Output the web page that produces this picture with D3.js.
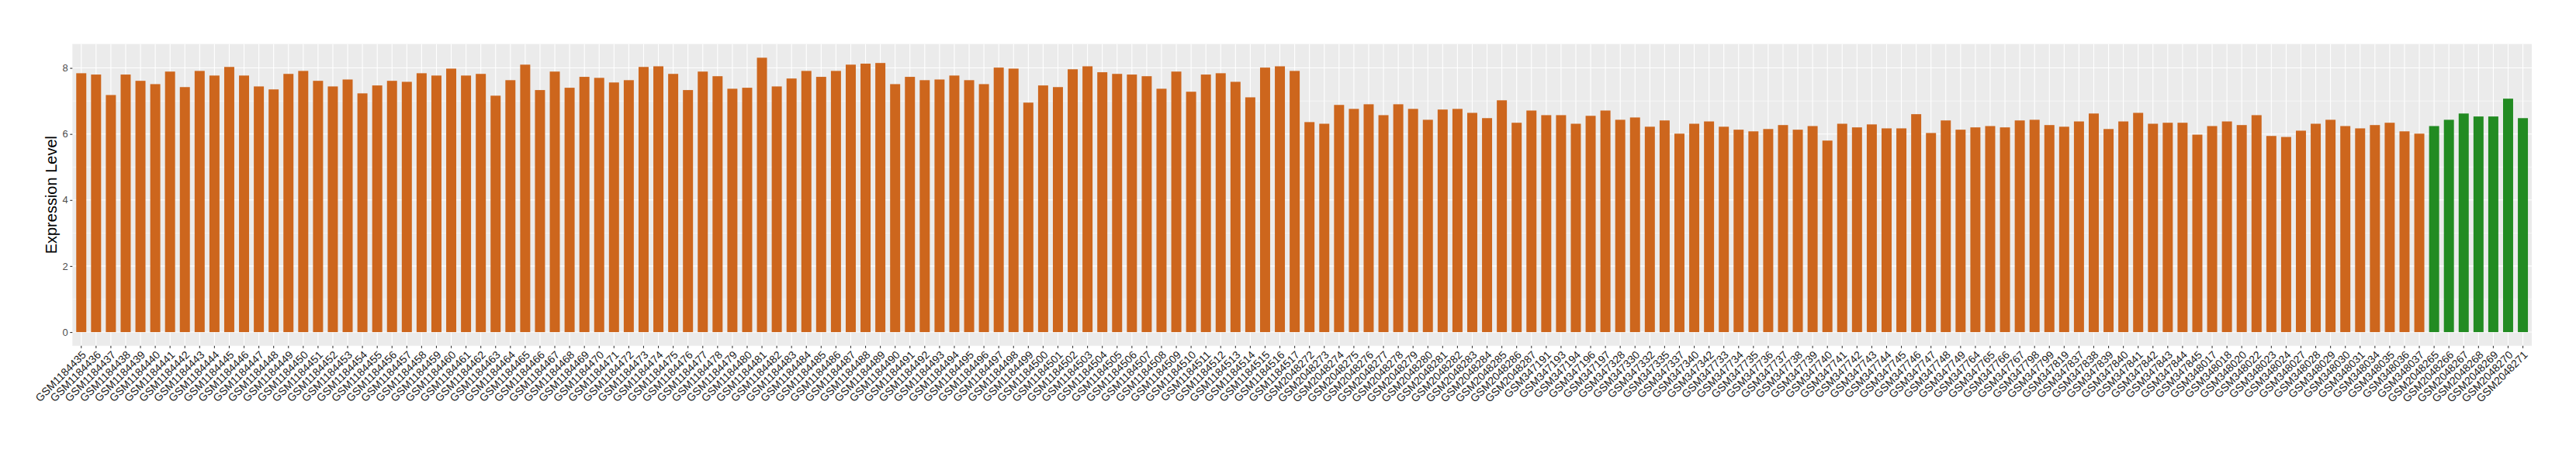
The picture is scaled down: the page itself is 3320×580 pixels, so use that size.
<!DOCTYPE html>
<html>
<head>
<meta charset="utf-8">
<script src="https://cdn.jsdelivr.net/npm/d3@7"></script>
<style>
  html, body { margin: 0; padding: 0; background: #ffffff; }
  svg { display: block; }
  text { font-family: "Liberation Sans", Arial, Helvetica, sans-serif; }
</style>
</head>
<body>
<script>
// ---------------- DATA ----------------
const samplesA = [
  "GSM1184435","GSM1184436","GSM1184437","GSM1184438","GSM1184439","GSM1184440","GSM1184441","GSM1184442","GSM1184443","GSM1184444",
  "GSM1184445","GSM1184446","GSM1184447","GSM1184448","GSM1184449","GSM1184450","GSM1184451","GSM1184452","GSM1184453","GSM1184454",
  "GSM1184455","GSM1184456","GSM1184457","GSM1184458","GSM1184459","GSM1184460","GSM1184461","GSM1184462","GSM1184463","GSM1184464",
  "GSM1184465","GSM1184466","GSM1184467","GSM1184468","GSM1184469","GSM1184470","GSM1184471","GSM1184472","GSM1184473","GSM1184474",
  "GSM1184475","GSM1184476","GSM1184477","GSM1184478","GSM1184479","GSM1184480","GSM1184481","GSM1184482","GSM1184483","GSM1184484",
  "GSM1184485","GSM1184486","GSM1184487","GSM1184488","GSM1184489","GSM1184490","GSM1184491","GSM1184492","GSM1184493","GSM1184494",
  "GSM1184495","GSM1184496","GSM1184497","GSM1184498","GSM1184499","GSM1184500","GSM1184501","GSM1184502","GSM1184503","GSM1184504",
  "GSM1184505","GSM1184506","GSM1184507","GSM1184508","GSM1184509","GSM1184510","GSM1184511","GSM1184512","GSM1184513","GSM1184514",
  "GSM1184515","GSM1184516","GSM1184517",
  "GSM2048272","GSM2048273","GSM2048274","GSM2048275","GSM2048276","GSM2048277","GSM2048278","GSM2048279","GSM2048280","GSM2048281",
  "GSM2048282","GSM2048283","GSM2048284","GSM2048285","GSM2048286","GSM2048287",
  "GSM347191","GSM347193","GSM347194","GSM347196","GSM347197","GSM347328","GSM347330","GSM347332","GSM347335","GSM347337",
  "GSM347340","GSM347342","GSM347733","GSM347734","GSM347735","GSM347736","GSM347737","GSM347738","GSM347739","GSM347740",
  "GSM347741","GSM347742","GSM347743","GSM347744","GSM347745","GSM347746","GSM347747","GSM347748","GSM347749","GSM347764",
  "GSM347765","GSM347766","GSM347767","GSM347798","GSM347799","GSM347819","GSM347837","GSM347838","GSM347839","GSM347840",
  "GSM347841","GSM347842","GSM347843","GSM347844","GSM347845","GSM348017","GSM348018","GSM348020","GSM348022","GSM348023",
  "GSM348024","GSM348027","GSM348028","GSM348029","GSM348030","GSM348031","GSM348034","GSM348035","GSM348036","GSM348037"
];
const valuesA = [
  7.84, 7.80, 7.18, 7.80, 7.61, 7.51, 7.89, 7.42, 7.91, 7.77,
  8.03, 7.77, 7.44, 7.35, 7.82, 7.91, 7.61, 7.44, 7.65, 7.23,
  7.47, 7.61, 7.58, 7.84, 7.77, 7.98, 7.77, 7.82, 7.16, 7.63,
  8.10, 7.33, 7.89, 7.40, 7.73, 7.70, 7.56, 7.63, 8.03, 8.05,
  7.82, 7.33, 7.89, 7.75, 7.37, 7.40, 8.31, 7.44, 7.68, 7.91,
  7.73, 7.91, 8.10, 8.13, 8.15, 7.51, 7.73, 7.63, 7.65, 7.77,
  7.63, 7.51, 8.01, 7.98, 6.95, 7.47, 7.42, 7.96, 8.05, 7.87,
  7.82, 7.80, 7.75, 7.37, 7.89, 7.28, 7.80, 7.84, 7.58, 7.11,
  8.01, 8.05, 7.91,
  6.36, 6.31, 6.88, 6.76, 6.90, 6.57, 6.90, 6.76, 6.43, 6.74,
  6.76, 6.64, 6.48, 7.02, 6.34, 6.71, 6.57, 6.57, 6.31, 6.55,
  6.71, 6.43, 6.50, 6.22, 6.41, 6.01, 6.31, 6.38, 6.22, 6.13,
  6.08, 6.15, 6.27, 6.13, 6.24, 5.80, 6.31, 6.20, 6.29, 6.17,
  6.17, 6.60, 6.03, 6.41, 6.13, 6.20, 6.24, 6.20, 6.41, 6.43,
  6.27, 6.22, 6.38, 6.62, 6.15, 6.38, 6.64, 6.31, 6.34, 6.34,
  5.98, 6.24, 6.38, 6.27, 6.57, 5.94, 5.91, 6.10, 6.31, 6.43,
  6.24, 6.17, 6.27, 6.34, 6.08, 6.01
];
const samplesB = ["GSM2048265","GSM2048266","GSM2048267","GSM2048268","GSM2048269","GSM2048270","GSM2048271"];
const valuesB = [6.24, 6.43, 6.62, 6.53, 6.53, 7.07, 6.48];
const yTicks = [0, 2, 4, 6, 8];
const yMinorTicks = [1, 3, 5, 7];
const yTitle = "Expression Level";

// ---------------- BUILD ----------------
const rows = samplesA.map((s, i) => ({ sample: s, value: valuesA[i], group: "A" }))
  .concat(samplesB.map((s, i) => ({ sample: s, value: valuesB[i], group: "B" })));

const W = 3320, H = 580;
const panel = { left: 93.3, right: 3263, top: 56.7, bottom: 445.7 };
const colors = { A: "#CD661D", B: "#228B22" };

const svg = d3.select("body").append("svg")
  .attr("width", W).attr("height", H)
  .attr("viewBox", `0 0 ${W} ${H}`);
svg.append("rect").attr("width", W).attr("height", H).attr("fill", "#ffffff");

const x = d3.scaleBand()
  .domain(rows.map(d => d.sample))
  .range([panel.left, panel.right])
  .paddingInner(0.32)
  .paddingOuter(0.26);

const maxV = d3.max(rows, d => d.value);
const y = d3.scaleLinear()
  .domain([-0.05 * maxV, 1.05 * maxV])
  .range([panel.bottom, panel.top]);

// panel background
svg.append("rect")
  .attr("x", panel.left).attr("y", panel.top)
  .attr("width", panel.right - panel.left)
  .attr("height", panel.bottom - panel.top)
  .attr("fill", "#EBEBEB");

const grid = svg.append("g");
grid.selectAll("line.minor").data(yMinorTicks).join("line")
  .attr("class", "minor")
  .attr("x1", panel.left).attr("x2", panel.right)
  .attr("y1", d => y(d)).attr("y2", d => y(d))
  .attr("stroke", "#ffffff").attr("stroke-width", 0.55);
grid.selectAll("line.major").data(yTicks).join("line")
  .attr("class", "major")
  .attr("x1", panel.left).attr("x2", panel.right)
  .attr("y1", d => y(d)).attr("y2", d => y(d))
  .attr("stroke", "#ffffff").attr("stroke-width", 1.1);
grid.selectAll("line.vx").data(rows).join("line")
  .attr("class", "vx")
  .attr("x1", d => x(d.sample) + x.bandwidth() / 2)
  .attr("x2", d => x(d.sample) + x.bandwidth() / 2)
  .attr("y1", panel.top).attr("y2", panel.bottom)
  .attr("stroke", "#ffffff").attr("stroke-width", 1.1);

// bars
svg.append("g").selectAll("rect").data(rows).join("rect")
  .attr("x", d => x(d.sample))
  .attr("width", x.bandwidth())
  .attr("y", d => y(d.value))
  .attr("height", d => y(0) - y(d.value))
  .attr("fill", d => colors[d.group]);

// y axis
const yAxis = d3.axisLeft(y).tickValues(yTicks).tickSize(3).tickPadding(2.5).tickFormat(d3.format("d"));
const gy = svg.append("g").attr("transform", `translate(${panel.left},0)`).call(yAxis);
gy.select(".domain").remove();
gy.selectAll(".tick line").attr("stroke", "#333333").attr("stroke-width", 1.1);
gy.selectAll(".tick text").attr("fill", "#4D4D4D").attr("font-size", 13)
  .style("font-family", "'Liberation Sans', Arial, sans-serif");

// x axis
const xAxis = d3.axisBottom(x).tickSize(3).tickPadding(0);
const gx = svg.append("g").attr("transform", `translate(0,${panel.bottom})`).call(xAxis);
gx.select(".domain").remove();
gx.selectAll(".tick line").attr("stroke", "#333333").attr("stroke-width", 1.1);
gx.selectAll(".tick text")
  .attr("fill", "#1A1A1A")
  .attr("font-size", 14)
  .style("font-family", "'Liberation Sans', Arial, sans-serif")
  .attr("text-anchor", "end")
  .attr("y", 0).attr("dy", 0)
  .attr("transform", "translate(0,5.5) rotate(-45) translate(0,10)");

// y title
svg.append("text")
  .attr("transform", `translate(73,${(panel.top + panel.bottom) / 2}) rotate(-90)`)
  .attr("text-anchor", "middle")
  .attr("font-size", 20)
  .attr("fill", "#000000")
  .text(yTitle);
</script>
</body>
</html>
